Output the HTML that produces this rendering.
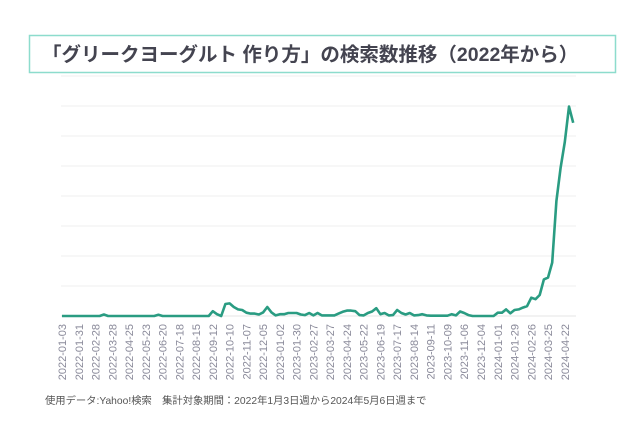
<!DOCTYPE html>
<html><head><meta charset="utf-8"><style>
body{margin:0;background:#fff;width:640px;height:418px;overflow:hidden;font-family:"Liberation Sans","Noto Sans CJK JP",sans-serif}
</style></head><body>
<svg width="640" height="418" xmlns="http://www.w3.org/2000/svg">
<rect x="29.5" y="35.5" width="586" height="37" fill="none" stroke="#8ddccd" stroke-width="1.5"/>
<text x="42" y="61" font-size="19.5" font-weight="bold" fill="#444450" font-family="Liberation Sans, Noto Sans CJK JP, sans-serif">「グリークヨーグルト 作り方」の検索数推移（2022年から）</text>
<g id="grid"></g><g id="xt"></g><path id="line" fill="none" stroke="#2a9c82" stroke-width="2.6" stroke-linejoin="round"/>
<text x="45" y="404" font-size="10.3" fill="#555" font-family="Liberation Sans, Noto Sans CJK JP, sans-serif">使用データ:Yahoo!検索　集計対象期間：2022年1月3日週から2024年5月6日週まで</text>
</svg>
<script>
const values=[0,0,0,0,0,0,0,0,0,0,0.5,0,0,0,0,0,0,0,0,0,0,0,0,0.4,0,0,0,0,0,0,0,0,0,0,0,0,1.6,0.6,0,4,4.2,3,2.2,2,1.1,0.8,0.8,0.5,1.2,3,1.2,0.2,0.6,0.6,1,1,1,0.5,0.3,1,0.2,1,0.2,0.2,0.2,0.2,0.8,1.4,1.8,1.8,1.6,0.3,0.2,1,1.5,2.6,0.6,1,0.2,0.3,2,1,0.5,1,0.2,0.3,0.6,0.2,0.1,0.1,0.1,0.1,0.1,0.6,0.2,1.5,1,0.3,0,0,0,0,0,0,1.1,1.1,2.2,0.9,2,2.2,2.8,3.3,6.1,5.6,7,12.2,12.8,17.8,38.3,49.4,58,69.8,64.4];
const tickLabels=["2022-01-03","2022-01-31","2022-02-28","2022-03-28","2022-04-25","2022-05-23","2022-06-20","2022-07-18","2022-08-15","2022-09-12","2022-10-10","2022-11-07","2022-12-05","2023-01-02","2023-01-30","2023-02-27","2023-03-27","2023-04-24","2023-05-22","2023-06-19","2023-07-17","2023-08-14","2023-09-11","2023-10-09","2023-11-06","2023-12-04","2024-01-01","2024-01-29","2024-02-26","2024-03-25","2024-04-22"];
const gridValues=[0,10,20,30,40,50,60,70,80];
const NS="http://www.w3.org/2000/svg";
const x0=62,pxw=4.19,y0=316,pxu=3;
const X=i=>x0+i*pxw, Y=v=>y0-v*pxu;
const grid=document.getElementById('grid');
gridValues.forEach(g=>{const l=document.createElementNS(NS,'line');
l.setAttribute('x1',61);l.setAttribute('x2',576);l.setAttribute('y1',Y(g));l.setAttribute('y2',Y(g));
l.setAttribute('stroke',g===0?'#e4e4e4':'#efefef');l.setAttribute('stroke-width',1);


grid.appendChild(l);});
const xt=document.getElementById('xt');
tickLabels.forEach((t,k)=>{const x=X(k*4);const e=document.createElementNS(NS,'text');
e.setAttribute('transform','translate('+(x+4)+',324) rotate(-90)');e.setAttribute('text-anchor','end');
e.setAttribute('font-size','11');e.setAttribute('fill','#8a8a9a');e.textContent=t;


xt.appendChild(e);});
document.getElementById('line').setAttribute('d',values.map((v,i)=>(i?'L':'M')+X(i).toFixed(1)+','+Y(v).toFixed(1)).join(''));
</script>
</body></html>
